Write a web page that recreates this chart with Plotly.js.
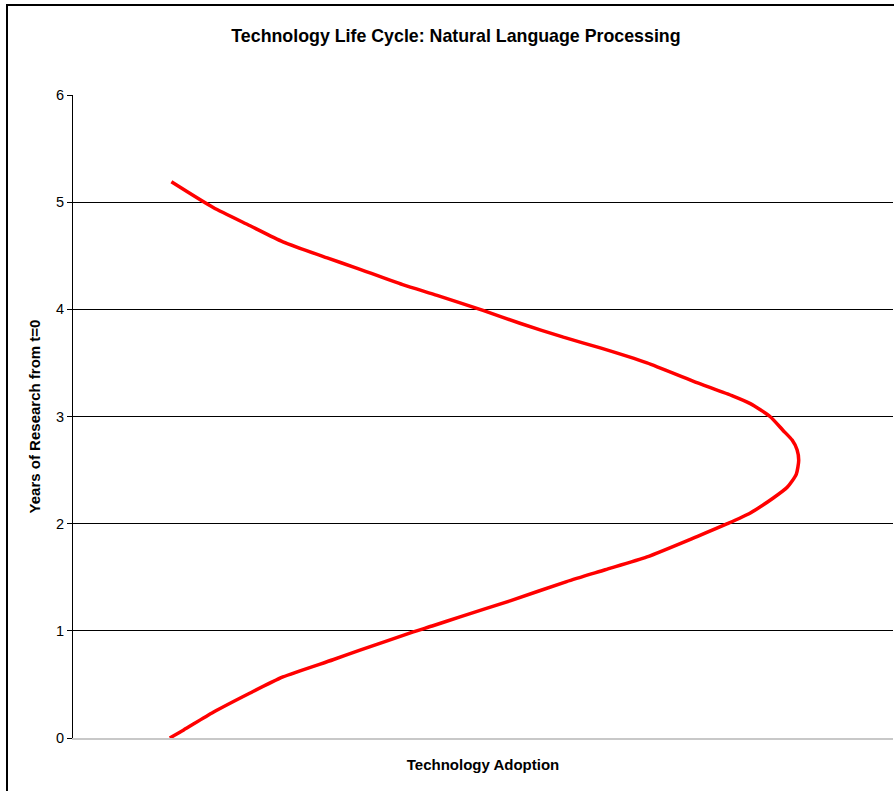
<!DOCTYPE html>
<html>
<head>
<meta charset="utf-8">
<script src="https://cdn.plot.ly/plotly-3.0.1.min.js"></script>
<style>
  html, body { margin: 0; padding: 0; background: #ffffff; }
  #chart { width: 894px; height: 791px; }
</style>
</head>
<body>
<div id="chart"></div>
<script>
// Adoption level (arbitrary units, 0-100) along the life-cycle curve
const adoption = [
  11.8, 13.5, 17.1, 21.6, 25.6, 31.7, 35.0, 41.5, 43.8, 47.2,
  53.3, 60.2, 64.9, 70.0, 76.1, 79.8, 82.6, 85.4, 87.1, 88.2,
  88.5, 88.3, 87.7, 86.6, 85.0, 82.6, 80.5, 75.6, 70.0, 64.3,
  59.8, 54.5, 50.0, 44.4, 40.2, 34.4, 31.0, 25.6, 21.6, 17.1,
  12.0
];
// Years of research from t=0 at each point
const years = [
  0.00, 0.075, 0.24, 0.42, 0.57, 0.73, 0.82, 0.99, 1.045, 1.13,
  1.28, 1.46, 1.57, 1.69, 1.88, 2.00, 2.10, 2.24, 2.34, 2.46,
  2.59, 2.69, 2.78, 2.87, 3.00, 3.12, 3.19, 3.33, 3.50, 3.64,
  3.74, 3.87, 3.99, 4.13, 4.23, 4.39, 4.48, 4.63, 4.78, 4.95,
  5.19
];
const yTicks = [0, 1, 2, 3, 4, 5, 6];
const gridYears = [1, 2, 3, 4, 5];

const FONT = 'Liberation Sans, Arial, Helvetica, sans-serif';

const traces = [{
  x: adoption,
  y: years,
  type: 'scatter',
  mode: 'lines',
  line: { color: '#ff0000', width: 3.5, shape: 'spline', smoothing: 0.6 },
  hoverinfo: 'x+y',
  showlegend: false
}, {
  // invisible carrier for the gridline axis
  x: [0], y: [0], yaxis: 'y2', mode: 'markers',
  marker: { opacity: 0 }, hoverinfo: 'skip', showlegend: false
}];

const layout = {
  width: 894,
  height: 791,
  paper_bgcolor: '#ffffff',
  plot_bgcolor: '#ffffff',
  margin: { l: 73, r: 1, t: 95, b: 53 },
  font: { family: FONT, color: '#000000', size: 14 },
  title: {
    text: 'Technology Life Cycle: Natural Language Processing',
    font: { family: FONT, size: 17.8, weight: 'bold', color: '#000000' },
    xref: 'container', x: 0.51, xanchor: 'center',
    yref: 'container', y: 1 - 36 / 791, yanchor: 'middle'
  },
  xaxis: {
    range: [0, 100],
    showgrid: false,
    zeroline: false,
    showticklabels: false,
    ticks: '',
    showline: true,
    linecolor: '#c8c8c8',
    linewidth: 2,
    fixedrange: true,
    title: {
      text: 'Technology Adoption',
      font: { family: FONT, size: 15, weight: 'bold', color: '#000000' },
      standoff: 20
    }
  },
  yaxis: {
    range: [0, 6],
    tickvals: yTicks,
    ticktext: yTicks.map(String),
    ticks: 'outside',
    ticklen: 5,
    tickwidth: 1,
    tickcolor: '#000000',
    showgrid: false,
    zeroline: false,
    showline: true,
    linecolor: '#000000',
    linewidth: 1,
    tickfont: { family: FONT, size: 14.5, color: '#000000' },
    fixedrange: true,
    title: {
      text: 'Years of Research from t=0',
      font: { family: FONT, size: 15, weight: 'bold', color: '#000000' },
      standoff: 11
    }
  },
  yaxis2: {
    overlaying: 'y',
    range: [0, 6],
    tickvals: gridYears,
    showticklabels: false,
    ticks: '',
    showgrid: true,
    gridcolor: '#000000',
    gridwidth: 1,
    zeroline: false,
    showline: false,
    fixedrange: true
  },
  shapes: [{
    type: 'rect',
    xref: 'paper', yref: 'paper',
    x0: (7 - 73) / 820, x1: 1.3,
    y0: -0.3, y1: (738 - 5) / 643,
    line: { color: '#000000', width: 2 },
    fillcolor: 'rgba(0,0,0,0)',
    layer: 'above'
  }]
};

Plotly.newPlot('chart', traces, layout, { displayModeBar: false, staticPlot: true });
</script>
</body>
</html>
